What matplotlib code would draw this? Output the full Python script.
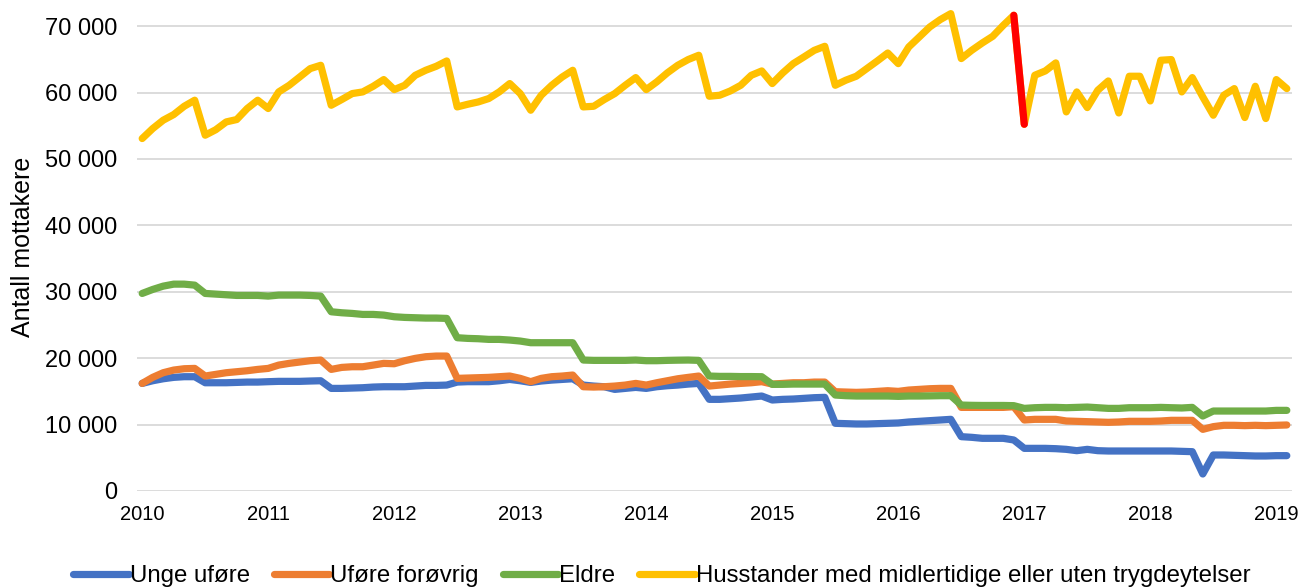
import numpy as np
import matplotlib.pyplot as plt
from matplotlib.ticker import FuncFormatter

# månedlige tall, jan 2010 - feb 2019
unge_ufore = [
    16200, 16600, 16900, 17110, 17210, 17210, 16300, 16300, 16300, 16350, 16400, 16400,
    16460, 16510, 16510, 16510, 16560, 16600, 15450, 15450, 15500, 15550, 15650, 15700,
    15700, 15700, 15800, 15900, 15900, 15950, 16400, 16460, 16460, 16460, 16600, 16800,
    16600, 16350, 16560, 16700, 16800, 16900, 15950, 15800, 15700, 15300, 15450, 15600,
    15450, 15700, 15850, 15950, 16100, 16200, 13800, 13800, 13900, 14000, 14150, 14300,
    13700, 13800, 13850, 13950, 14050, 14100, 10190, 10140, 10090, 10090, 10140, 10190,
    10240, 10390, 10490, 10590, 10690, 10790, 8180, 8080, 7930, 7930, 7930, 7680,
    6420, 6420, 6420, 6370, 6270, 6070, 6270, 6070, 6020, 6020, 6020, 6020,
    6020, 6020, 6020, 5970, 5920, 2560, 5420, 5420, 5370, 5320, 5270, 5270,
    5320, 5320,
]
ufore_forovrig = [
    16200, 17110, 17810, 18210, 18410, 18460, 17310, 17560, 17810, 17960, 18110, 18310,
    18460, 18960, 19220, 19420, 19620, 19720, 18310, 18610, 18710, 18710, 18960, 19220,
    19160, 19620, 19970, 20220, 20320, 20320, 16960, 17010, 17060, 17110, 17210, 17310,
    16960, 16460, 16960, 17210, 17310, 17460, 15700, 15650, 15700, 15800, 15950, 16200,
    15950, 16300, 16600, 16900, 17110, 17310, 15800, 15950, 16100, 16200, 16300, 16460,
    16100, 16200, 16300, 16300, 16400, 16400, 14950, 14900, 14850, 14900, 15000, 15100,
    15000, 15200, 15300, 15400, 15450, 15450, 12590, 12590, 12590, 12590, 12590, 12690,
    10690, 10790, 10790, 10790, 10540, 10490, 10440, 10390, 10340, 10390, 10490, 10490,
    10490, 10540, 10640, 10640, 10640, 9280, 9690, 9890, 9890, 9840, 9890, 9840,
    9890, 9940,
]
eldre = [
    29750, 30350, 30850, 31150, 31150, 31000, 29750, 29650, 29550, 29450, 29450, 29450,
    29350, 29500, 29500, 29500, 29450, 29350, 26990, 26840, 26740, 26590, 26590, 26490,
    26240, 26140, 26090, 26040, 26040, 25990, 23080, 22980, 22930, 22830, 22830, 22730,
    22580, 22330, 22330, 22330, 22330, 22330, 19720, 19670, 19670, 19670, 19670, 19720,
    19620, 19620, 19670, 19700, 19720, 19670, 17310, 17260, 17260, 17230, 17230, 17210,
    16060, 16060, 16100, 16100, 16100, 16100, 14450, 14350, 14300, 14300, 14300, 14300,
    14250, 14300, 14300, 14320, 14350, 14350, 12940, 12900, 12880, 12880, 12880, 12850,
    12440, 12540, 12590, 12590, 12540, 12590, 12640, 12540, 12440, 12440, 12540, 12540,
    12540, 12590, 12540, 12500, 12590, 11290, 12040, 12040, 12040, 12040, 12040, 12040,
    12140, 12140,
]
husstander = [
    53080, 54580, 55840, 56690, 57940, 58850, 53580, 54400, 55580, 55940, 57600, 58850,
    57600, 60100, 61100, 62350, 63610, 64110, 58090, 58950, 59850, 60100, 60950, 61960,
    60450, 61100, 62600, 63360, 63960, 64760, 57840, 58240, 58590, 59100, 60100, 61360,
    59850, 57340, 59600, 61100, 62350, 63360, 57840, 57940, 58950, 59850, 61100, 62260,
    60450, 61610, 62960, 64110, 64980, 65620, 59450, 59600, 60240, 61100, 62600, 63260,
    61360, 62960, 64360, 65350, 66360, 66970, 61100, 61860, 62460, 63610, 64760, 65960,
    64360, 66870, 68370, 69880, 70990, 71890, 65120, 66370, 67470, 68480, 70130, 71640,
    55230, 62610, 63260, 64470, 57090, 60100, 57740, 60350, 61750, 56930, 62460, 62460,
    58740, 64870, 64970, 60100, 62260, 59340, 56590, 59600, 60600, 56240, 60950, 56090,
    61960, 60600,
]

series_names = ['Unge uføre', 'Uføre forøvrig', 'Eldre',
                'Husstander med midlertidige eller uten trygdeytelser']
series_colors = ['#4472C4', '#ED7D31', '#70AD47', '#FFC000']
years = list(range(2010, 2020))
brudd = 83  # des 2016 -> jan 2017, markert i rødt


def main():
    plt.rcParams['font.family'] = ['Liberation Sans', 'DejaVu Sans']

    n = len(husstander)
    x = 2010 + (np.arange(n) + 0.5) / 12

    fig = plt.figure(figsize=(13.03, 5.88), dpi=100)
    ax = fig.add_axes([0.1051, 0.165, 0.8865, 0.830])

    data = [unge_ufore, ufore_forovrig, eldre, husstander]
    for vals, name, col in zip(data, series_names, series_colors):
        ax.plot(x, vals, color=col, lw=5.2, label=name,
                solid_joinstyle='round', solid_capstyle='round', clip_on=False)

    # bruddet i serien
    ax.plot(x[brudd:brudd + 2], husstander[brudd:brudd + 2], color='#FF0000', lw=5.2,
            solid_joinstyle='round', solid_capstyle='round')

    ax.set_xlim(2010, 2010 + n / 12)
    ax.set_ylim(0, 73500)
    ax.set_yticks(range(0, 70001, 10000))
    ax.yaxis.set_major_formatter(FuncFormatter(lambda v, p: f'{int(v):,}'.replace(',', ' ')))
    ax.set_xticks([yr + 0.5 / 12 for yr in years])
    ax.set_xticklabels([str(yr) for yr in years])

    ax.grid(True, axis='y', color='#D9D9D9', lw=1.3)
    ax.set_axisbelow(True)
    for s in ax.spines.values():
        s.set_visible(False)
    ax.tick_params(axis='both', length=0)
    ax.tick_params(axis='y', labelsize=17, pad=14)
    ax.tick_params(axis='x', labelsize=14.5, pad=10)

    ax.set_ylabel('Antall mottakere', fontsize=18)
    ax.yaxis.set_label_coords(-0.088, 0.5)

    fig.legend(loc='center', bbox_to_anchor=(0.508, 0.02), ncol=4, frameon=False,
               fontsize=17.3, handlelength=2.3, handletextpad=0.05, columnspacing=1.0,
               borderaxespad=0, borderpad=0)

    fig.savefig('out.png', dpi=100)


if __name__ == '__main__':
    main()
